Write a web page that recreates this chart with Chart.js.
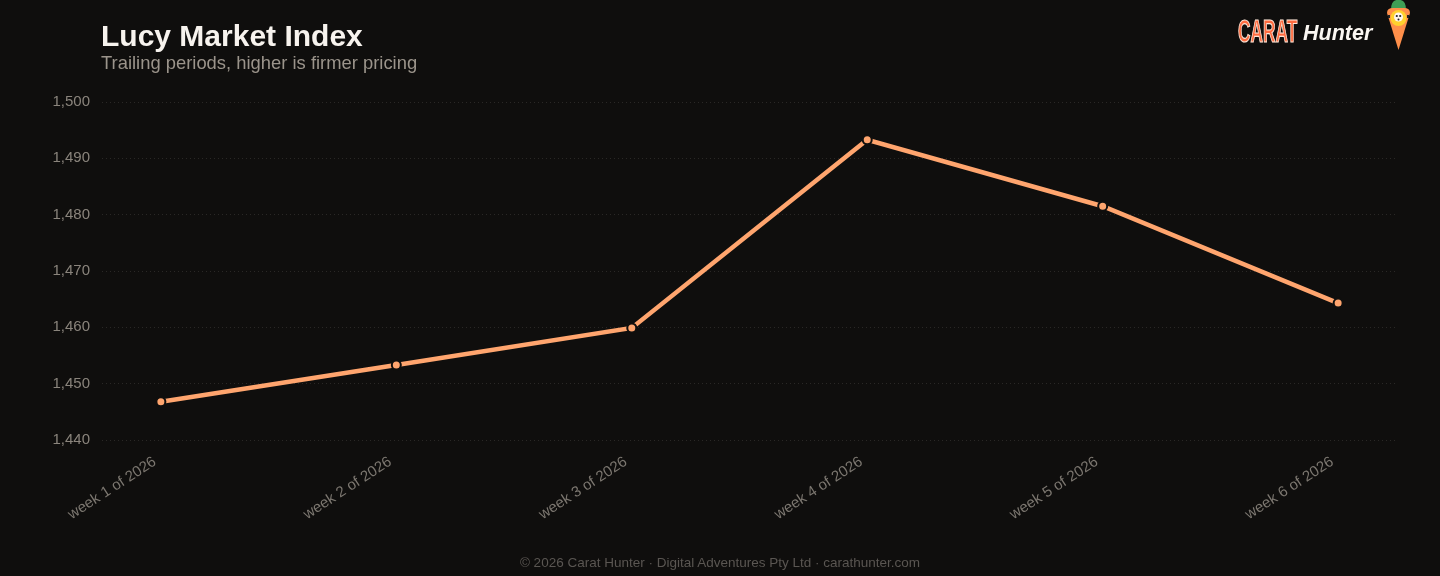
<!DOCTYPE html>
<html>
<head>
<meta charset="utf-8">
<script src="https://cdn.jsdelivr.net/npm/chart.js@4.4.1/dist/chart.umd.min.js"></script>
<style>
  html, body { margin: 0; padding: 0; background: #0f0e0d; }
  .wrap { position: relative; width: 1440px; height: 576px; overflow: hidden; font-family: "Liberation Sans", Arial, sans-serif; }
  canvas { position: absolute; left: 0; top: 0; }
  .title { position: absolute; left: 101px; top: 19px; color: #f7f3ee; font-size: 30px; font-weight: bold; }
  .subtitle { position: absolute; left: 101px; top: 52px; color: #9b948b; font-size: 18.4px; }
  .footer { position: absolute; left: 0; width: 1440px; top: 555px; text-align: center; color: #5a5652; font-size: 13.5px; }
  .logo { position: absolute; left: 1238px; top: 0; height: 52px; }
  .carat { position: absolute; left: 0; top: 13px; display: inline-block; transform: scaleX(0.54); transform-origin: left top;
           font-weight: bold; font-size: 32px; color: #ff6b3f; -webkit-text-stroke: 1.2px #ffe6d8; }
  .hunter { position: absolute; left: 65px; top: 21px; font-style: italic; font-weight: bold; font-size: 21.5px; color: #fbf7f2; }
  .carrot { position: absolute; left: 146px; top: 0; }
</style>
</head>
<body>
<div class="wrap">
  <canvas id="chart" width="1440" height="576"></canvas>
  <div class="title">Lucy Market Index</div>
  <div class="subtitle">Trailing periods, higher is firmer pricing</div>
  <div class="logo">
    <span class="carat">CARAT</span>
    <span class="hunter">Hunter</span>
    <svg class="carrot" width="30" height="52" viewBox="0 0 30 52">
      <path d="M7 10 Q7 -1 14.5 0 Q22 -1 22 10 Z" fill="#3f9e55"/>
      <path d="M3 13 Q3 8 9 8 L20 8 Q26 8 26 13 L14.5 50 Z" fill="#ff8f4a"/>
      <circle cx="14.5" cy="18" r="8" fill="#ffd12e"/>
      <circle cx="14.5" cy="17" r="4.5" fill="#fff6ec"/>
      <rect x="4" y="15" width="2" height="3" fill="#222"/>
      <rect x="23" y="15" width="2" height="3" fill="#222"/>
      <circle cx="12.8" cy="16" r="1.1" fill="#222"/>
      <circle cx="16.2" cy="16" r="1.1" fill="#222"/>
      <circle cx="14.5" cy="19.5" r="1" fill="#222"/>
    </svg>
  </div>
  <div class="footer">© 2026 Carat Hunter · Digital Adventures Pty Ltd · carathunter.com</div>
</div>
<script>
  // periods and index values
  const weeks = ['week 1 of 2026', 'week 2 of 2026', 'week 3 of 2026', 'week 4 of 2026', 'week 5 of 2026', 'week 6 of 2026'];
  const indexValues = [1446.8, 1453.3, 1459.9, 1493.3, 1481.5, 1464.3];
  const yTicks = [1440, 1450, 1460, 1470, 1480, 1490, 1500];

  const lineColor = '#ffa56e';

  new Chart(document.getElementById('chart'), {
    type: 'line',
    data: {
      datasets: [{
        data: indexValues.map((v, i) => ({ x: i, y: v })),
        borderColor: lineColor,
        backgroundColor: lineColor,
        borderWidth: 4.5,
        pointRadius: 4.5,
        pointBorderWidth: 2,
        pointBorderColor: '#100f0e',
        pointBackgroundColor: lineColor,
        tension: 0,
        fill: false
      }]
    },
    options: {
      responsive: false,
      animation: false,
      layout: { padding: { left: 0, right: 43, top: 102, bottom: 40 } },
      plugins: { legend: { display: false }, tooltip: { enabled: false } },
      scales: {
        x: {
          type: 'linear',
          min: -0.25,
          max: weeks.length - 0.75,
          grid: { display: false, drawTicks: false },
          border: { display: false },
          afterBuildTicks: (s) => { s.ticks = weeks.map((_, i) => ({ value: i })); },
          afterFit: (s) => { s.height = 96; },
          ticks: {
            minRotation: 33,
            maxRotation: 33,
            padding: 13,
            labelOffset: -6,
            color: '#7c7770',
            font: { family: 'Liberation Sans', size: 15 },
            callback: (v) => weeks[v]
          }
        },
        y: {
          min: yTicks[0],
          max: yTicks[yTicks.length - 1],
          afterBuildTicks: (s) => { s.ticks = yTicks.map(v => ({ value: v })); },
          afterFit: (s) => { s.width = 102; },
          grid: { color: '#2a2826', lineWidth: 1, drawTicks: false },
          border: { display: false, dash: [1, 3] },
          ticks: {
            padding: 12,
            color: '#8a847c',
            font: { family: 'Liberation Sans', size: 15 },
            callback: (v) => v.toLocaleString('en-US')
          }
        }
      }
    }
  });
</script>
</body>
</html>
